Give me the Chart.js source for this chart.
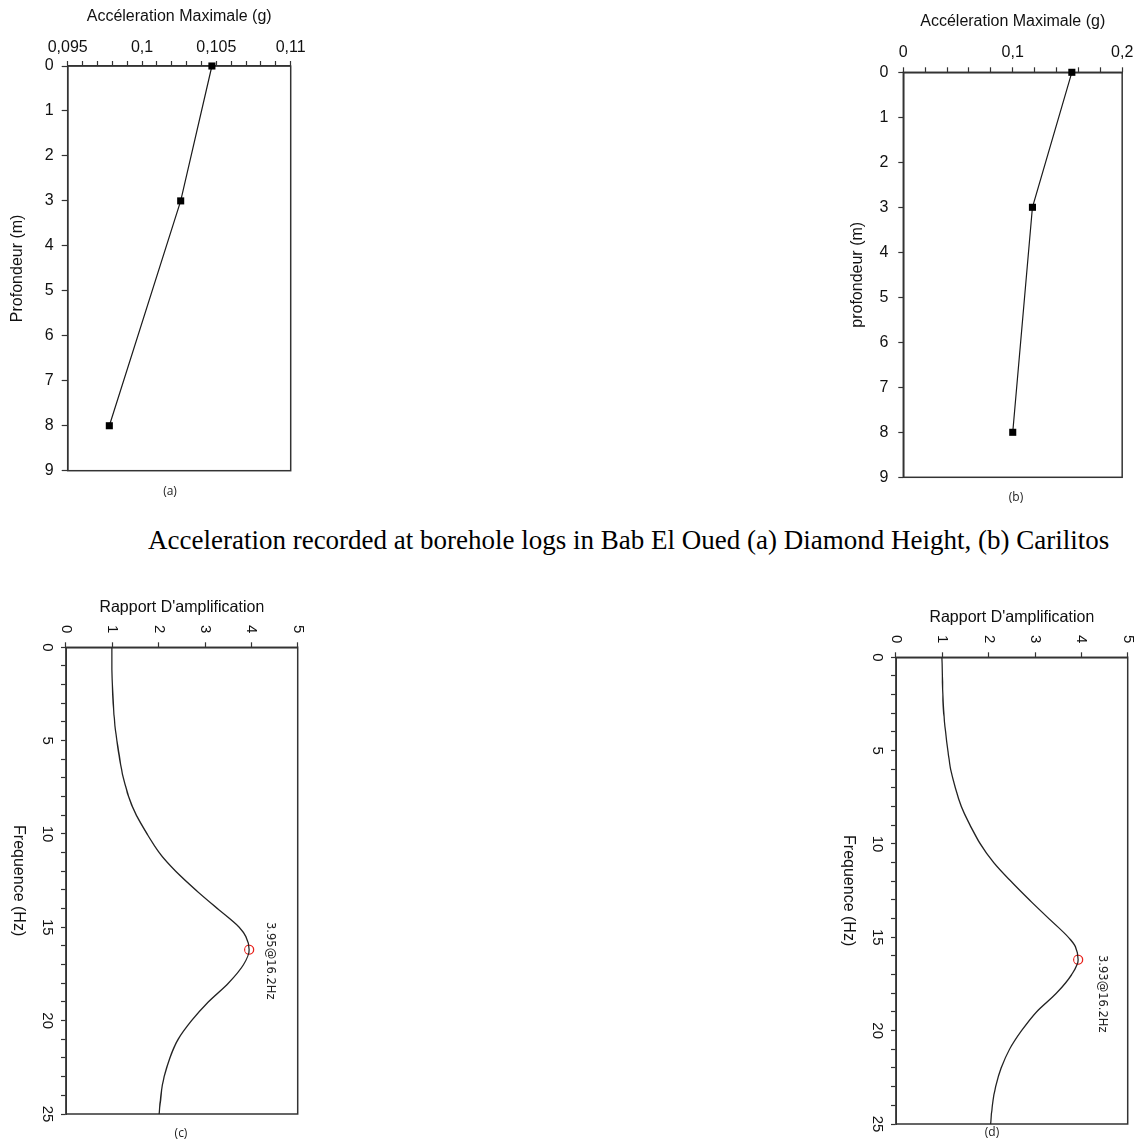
<!DOCTYPE html>
<html><head><meta charset="utf-8">
<script src="https://cdn.jsdelivr.net/npm/chart.js@4.4.1/dist/chart.umd.min.js"></script>
<style>
html,body{margin:0;padding:0;background:#fff;}
body{width:1138px;height:1143px;overflow:hidden;position:relative;}
canvas{position:absolute;}
.lbl{position:absolute;font-family:"Open Sans",sans-serif;font-size:12px;color:#222;transform:translate(-50%,-50%);white-space:nowrap;}
#caption{position:absolute;left:148px;top:525px;line-height:30px;font-family:"Liberation Serif","Times New Roman",serif;font-size:27px;color:#000;white-space:nowrap;}
</style></head><body>
<canvas id="ca" width="330" height="510" style="left:0;top:0"></canvas>
<canvas id="cb" width="308" height="510" style="left:830px;top:0"></canvas>
<div id="caption">Acceleration recorded at borehole logs in Bab El Oued (a) Diamond Height, (b) Carilitos</div>
<canvas id="cc" width="553" height="330" style="left:0;top:590px;transform-origin:0 0;transform:translateX(330px) rotate(90deg)"></canvas>
<canvas id="cd" width="553" height="330" style="left:830px;top:600px;transform-origin:0 0;transform:translateX(330px) rotate(90deg)"></canvas>
<div class="lbl" style="left:170px;top:490px">(a)</div>
<div class="lbl" style="left:1016px;top:496px">(b)</div>
<div class="lbl" style="left:181px;top:1132px">(c)</div>
<div class="lbl" style="left:992px;top:1131px">(d)</div>
<script>
// ---- data ----
const depthA = [0, 3, 8];
const accA = [0.1047, 0.1026, 0.0978];
const depthB = [0, 3, 8];
const accB = [0.154, 0.118, 0.100];
const accTicksA = [0.095, 0.1, 0.105, 0.11];
const accTicksB = [0, 0.1, 0.2];
const depthTicks = [0, 1, 2, 3, 4, 5, 6, 7, 8, 9];

const freqC = [0,1,2,3,4,5,6,7,8,9,10,11,12,13,14,15,15.5,16.2,17,18,19,20,21,22,23,24,25];
const ampC  = [0.99,0.99,1.00,1.02,1.05,1.10,1.16,1.24,1.35,1.52,1.75,2.01,2.37,2.80,3.27,3.74,3.88,3.95,3.83,3.50,3.07,2.71,2.42,2.24,2.12,2.05,2.01];
const freqD = [0,1,2,3,4,5,6,7,8,9,10,11,12,13,14,15,15.5,16.2,17,18,19,20,21,22,23,24,25];
const ampD  = [0.99,1.00,1.01,1.03,1.07,1.12,1.18,1.28,1.41,1.60,1.82,2.11,2.48,2.88,3.30,3.72,3.87,3.93,3.79,3.46,3.03,2.71,2.45,2.27,2.15,2.08,2.04];
const freqTicks = [0, 5, 10, 15, 20, 25];
const ampTicks = [0, 1, 2, 3, 4, 5];
const peakC = {f: 16.2, amp: 3.95, label: '3.95@16.2Hz'};
const peakD = {f: 16.2, amp: 3.93, label: '3.93@16.2Hz'};

// ---- helpers ----
const AX = '#333', TXT = '#111';
const isIn = (arr, v) => arr.some(t => Math.abs(t - v) < 1e-9);
const fmt = v => String(+v.toFixed(4)).replace('.', ',');
const sans = size => ({family: '"Liberation Sans", Arial, sans-serif', size: size});

const frame = {
  id: 'frame',
  beforeDatasetsDraw(chart) {
    const a = chart.chartArea, ctx = chart.ctx;
    ctx.save();
    ctx.strokeStyle = AX; ctx.lineWidth = 1.5;
    ctx.strokeRect(a.left, a.top, a.right - a.left, a.bottom - a.top);
    ctx.restore();
  }
};
const ann = {
  id: 'ann',
  afterDatasetsDraw(chart, args, o) {
    if (!o || !o.label) return;
    const ctx = chart.ctx;
    const x = chart.scales.x.getPixelForValue(o.f) + o.dx;
    const y = chart.scales.y.getPixelForValue(o.amp) + o.dy;
    ctx.save();
    ctx.font = '11.5px "DejaVu Sans", sans-serif';
    ctx.fillStyle = '#222'; ctx.textAlign = 'center'; ctx.textBaseline = 'middle';
    ctx.fillText(o.label, x, y);
    ctx.restore();
  }
};

function accChart(id, depth, acc, xmin, xmax, xstep, majors, yTitle, L) {
  new Chart(document.getElementById(id), {
    type: 'scatter',
    data: {datasets: [{
      data: depth.map((d, i) => ({x: acc[i], y: d})),
      showLine: true, borderColor: '#1a1a1a', borderWidth: 1.2,
      pointStyle: 'rect', pointRadius: 5, pointBorderWidth: 0,
      pointBackgroundColor: '#000', pointBorderColor: '#000', clip: false
    }]},
    options: {
      responsive: false, animation: false, events: [],
      layout: {padding: {left: 0, top: 0, right: L.pr, bottom: L.pb}},
      plugins: {legend: {display: false}, tooltip: {enabled: false}},
      scales: {
        x: {
          type: 'linear', position: 'top', min: xmin, max: xmax,
          ticks: {stepSize: xstep, autoSkip: false, maxRotation: 0, padding: L.xpad, color: TXT, font: sans(16),
                  callback: v => isIn(majors, v) ? fmt(v) : ''},
          grid: {drawOnChartArea: false, tickLength: 5, tickColor: AX, tickWidth: 1.2},
          border: {color: AX, width: 1.5},
          title: {display: true, text: 'Accéleration Maximale (g)', color: TXT, font: sans(16), padding: {top: L.xtp, bottom: 0}},
          afterFit: s => { s.height = L.top; }
        },
        y: {
          type: 'linear', position: 'left', min: 0, max: 9, reverse: true,
          ticks: {stepSize: 1, autoSkip: false, padding: L.ypad, color: TXT, font: sans(16),
                  callback: v => isIn(depthTicks, v) ? String(v) : ''},
          grid: {drawOnChartArea: false, tickLength: L.ytl, tickColor: AX, tickWidth: 1.2},
          border: {color: AX, width: 1.5},
          title: {display: true, text: yTitle, color: TXT, font: sans(16), padding: {top: L.ytp, bottom: 0}},
          afterFit: s => { s.width = L.left; }
        }
      }
    },
    plugins: [frame]
  });
}

function freqChart(id, freq, amp, peak, dx, dy) {
  new Chart(document.getElementById(id), {
    type: 'scatter',
    data: {datasets: [
      {data: freq.map((f, i) => ({x: f, y: amp[i]})), showLine: true, borderColor: '#222', borderWidth: 1.3,
       pointRadius: 0, cubicInterpolationMode: 'monotone', clip: false},
      {data: [{x: peak.f, y: peak.amp}], showLine: false, pointStyle: 'circle', pointRadius: 4.5,
       pointBorderColor: '#e8221c', pointBackgroundColor: 'rgba(0,0,0,0)', pointBorderWidth: 1.2, clip: false}
    ]},
    options: {
      responsive: false, animation: false, events: [],
      layout: {padding: {left: 0, top: 32.3, right: 29, bottom: 0}},
      plugins: {legend: {display: false}, tooltip: {enabled: false},
                ann: {f: peak.f, amp: peak.amp, label: peak.label, dx: dx, dy: dy}},
      scales: {
        x: {
          type: 'linear', position: 'bottom', min: 0, max: 25,
          ticks: {stepSize: 1, autoSkip: false, maxRotation: 0, padding: 5, color: TXT, font: sans(15),
                  callback: v => isIn(freqTicks, v) ? String(v) : ''},
          grid: {drawOnChartArea: false, tickLength: 5, tickColor: AX, tickWidth: 1.2},
          border: {color: AX, width: 1.5},
          title: {display: true, text: 'Frequence (Hz)', color: TXT, font: sans(16), padding: {top: 0, bottom: 8.9}},
          afterFit: s => { s.height = 66; }
        },
        y: {
          type: 'linear', position: 'left', min: 0, max: 5,
          ticks: {stepSize: 1, autoSkip: false, padding: 9, color: TXT, font: sans(15),
                  callback: v => isIn(ampTicks, v) ? String(v) : ''},
          grid: {drawOnChartArea: false, tickLength: 5, tickColor: AX, tickWidth: 1.2},
          border: {color: AX, width: 1.5},
          title: {display: true, text: "Rapport D'amplification", color: TXT, font: sans(16), padding: {top: 8.4, bottom: 0}},
          afterFit: s => { s.width = 57.3; }
        }
      }
    },
    plugins: [frame, ann]
  });
}

accChart('ca', depthA, accA, 0.095, 0.11, 0.001, accTicksA, 'Profondeur (m)',
  {top: 66, left: 67.7, pr: 39.3, pb: 39.3, xpad: 3.4, xtp: 7.4, ypad: 8, ytl: 6, ytp: 8.4});
accChart('cb', depthB, accB, 0, 0.2, 0.02, accTicksB, 'profondeur (m)',
  {top: 72.3, left: 73.3, pr: 10.3, pb: 32.7, xpad: 4.7, xtp: 12.4, ypad: 10, ytl: 5, ytp: 18.4});
freqChart('cc', freqC, ampC, peakC, 11, -21);
freqChart('cd', freqD, ampD, peakD, 34, -23.5);
</script>
</body></html>
